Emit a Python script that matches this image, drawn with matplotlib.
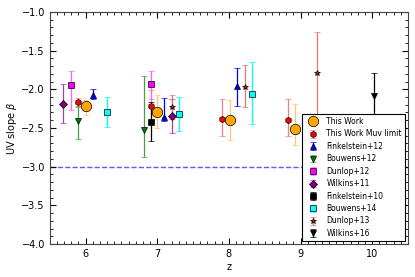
import numpy as np
import matplotlib.pyplot as plt
from matplotlib.ticker import MultipleLocator

# data: z, beta, err_lo, err_hi
twZ = [6.0, 7.0, 8.02, 8.93]
twB = [-2.22, -2.30, -2.40, -2.51]
twLo = [0.11, 0.20, 0.26, 0.21]
twHi = [0.08, 0.22, 0.26, 0.32]

muvZ = [5.90, 6.91, 7.91, 8.82]
muvB = [-2.17, -2.22, -2.38, -2.40]
muvLo = [0.06, 0.20, 0.23, 0.20]
muvHi = [0.06, 0.21, 0.25, 0.27]

f12Z = [6.10, 7.10, 8.12]
f12B = [-2.08, -2.36, -1.96]
f12Lo = [0.05, 0.05, 0.26]
f12Hi = [0.08, 0.25, 0.24]

b12Z = [5.90, 6.81]
b12B = [-2.41, -2.52]
b12Lo = [0.23, 0.36]
b12Hi = [0.20, 0.69]

d12Z = [5.79, 6.91]
d12B = [-1.94, -1.93]
d12Lo = [0.33, 0.20]
d12Hi = [0.18, 0.17]

w11Z = [5.68, 7.20]
w11B = [-2.19, -2.35]
w11Lo = [0.24, 0.22]
w11Hi = [0.26, 0.22]

f10Z = [6.91]
f10B = [-2.42]
f10Lo = [0.25]
f10Hi = [0.25]

b14Z = [6.30, 7.31, 8.32]
b14B = [-2.29, -2.32, -2.06]
b14Lo = [0.20, 0.22, 0.39]
b14Hi = [0.19, 0.22, 0.41]

d13Z = [7.20, 8.22, 9.23]
d13B = [-2.23, -1.97, -1.79]
d13Lo = [0.16, 0.26, 0.55]
d13Hi = [0.16, 0.28, 0.53]

w16Z = [10.03]
w16B = [-2.09]
w16Lo = [0.31]
w16Hi = [0.30]

fig = plt.figure(figsize=(4.15, 2.77), dpi=100)
ax = fig.add_axes([0.12, 0.119, 0.863, 0.838])

def pts(z, b, lo, hi, fmt, col, lab, ms, ecol=None, zo=3):
    ax.errorbar(z, b, yerr=[lo, hi], fmt=fmt, color=col, ms=ms, mec='k', mew=0.5,
                ecolor=ecol if ecol else col, elinewidth=0.9, capsize=2,
                capthick=0.9, label=lab, zorder=zo)

pts(twZ, twB, twLo, twHi, 'o', 'orange', 'This Work', 7.5, ecol='#ffc870', zo=4)
pts(muvZ, muvB, muvLo, muvHi, 'h', 'red', 'This Work Muv limit', 4.5, ecol='#f08080')
pts(f12Z, f12B, f12Lo, f12Hi, '^', 'blue', 'Finkelstein+12', 4)
pts(b12Z, b12B, b12Lo, b12Hi, 'v', 'green', 'Bouwens+12', 4, ecol='#44a044')
pts(d12Z, d12B, d12Lo, d12Hi, 's', 'magenta', 'Dunlop+12', 4, ecol='#ff60ff')
pts(w11Z, w11B, w11Lo, w11Hi, 'D', 'purple', 'Wilkins+11', 4, ecol='#a040a0')
pts(f10Z, f10B, f10Lo, f10Hi, 's', 'black', 'Finkelstein+10', 4)
pts(b14Z, b14B, b14Lo, b14Hi, 's', 'cyan', 'Bouwens+14', 4)
pts(d13Z, d13B, d13Lo, d13Hi, '*', 'brown', 'Dunlop+13', 4, ecol='#f07070')
pts(w16Z, w16B, w16Lo, w16Hi, 'v', 'black', 'Wilkins+16', 4)

ax.axhline(-3.0, color='#5a5aff', ls='--', lw=1.0, zorder=1)

ax.set_xlim(5.5, 10.5)
ax.set_ylim(-4.0, -1.0)
ax.xaxis.set_major_locator(MultipleLocator(1))
ax.xaxis.set_minor_locator(MultipleLocator(0.1))
ax.yaxis.set_major_locator(MultipleLocator(0.5))
ax.yaxis.set_minor_locator(MultipleLocator(0.1))
ax.tick_params(which='both', direction='in', top=True, right=True, labelsize=7)
ax.tick_params(which='major', length=4)
ax.tick_params(which='minor', length=2)
for s in ax.spines.values():
    s.set_color('#444444')
ax.set_xlabel('z', fontsize=7, labelpad=2)
ax.set_ylabel(r'UV slope $\beta$', fontsize=7, labelpad=2)

leg = ax.legend(loc='lower right', numpoints=1, fontsize=5.5, fancybox=False,
                framealpha=1, edgecolor='k', borderpad=0.4, labelspacing=0.45,
                handletextpad=0.8, borderaxespad=0.4)
leg.get_frame().set_linewidth(0.8)

fig.savefig('out.png', dpi=100)
